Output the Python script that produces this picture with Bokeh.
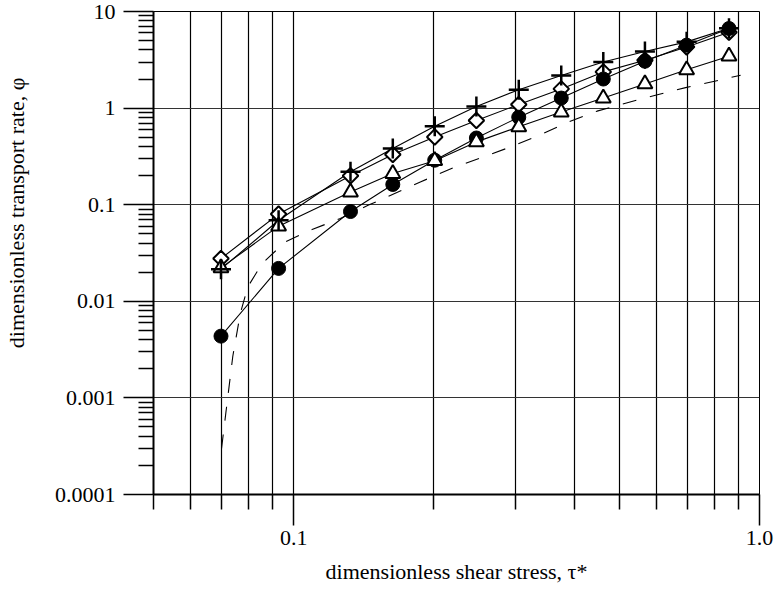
import numpy as np
from bokeh.plotting import figure
from bokeh.layouts import row
from bokeh.models import FixedTicker, CustomJSTickFormatter
from bokeh.core.properties import value
from bokeh.embed import file_html
from bokeh.resources import INLINE

# ---- data ----
tau = [0.0698, 0.0928, 0.1324, 0.1632, 0.2008, 0.2467, 0.3042, 0.3753, 0.462, 0.5676, 0.6975, 0.86]
phi_plus = [0.0215, 0.069, 0.219, 0.382, 0.650, 1.04, 1.55, 2.17, 3.0, 3.85, 4.85, 6.7]
phi_diamond = [0.0277, 0.080, 0.199, 0.331, 0.503, 0.745, 1.09, 1.58, 2.37, 3.13, 4.30, 6.1]
phi_circle = [0.00436, 0.0219, 0.085, 0.162, 0.289, 0.49, 0.805, 1.27, 2.0, 3.06, 4.48, 6.67]
phi_triangle = [0.0222, 0.060, 0.135, 0.210, 0.285, 0.447, 0.64, 0.91, 1.27, 1.78, 2.49, 3.44]

tau_dash = [0.0700, 0.0715, 0.0740, 0.0768, 0.0797, 0.0855, 0.0959, 0.1095, 0.1259, 0.1448,
            0.187, 0.222, 0.2555, 0.292, 0.337, 0.389, 0.448, 0.518, 0.598, 0.694, 0.801, 0.911]
phi_dash = [0.0003, 0.0007, 0.0027, 0.0075, 0.0141, 0.0246, 0.0412, 0.0553, 0.072, 0.099,
            0.172, 0.245, 0.313, 0.396, 0.523, 0.719, 0.93, 1.13, 1.36, 1.63, 1.90, 2.19]

x_major = [0.1, 1.0]
x_minor = [0.05, 0.06, 0.07, 0.08, 0.09, 0.2, 0.3, 0.4, 0.5, 0.6, 0.7, 0.8, 0.9]
y_major = [0.0001, 0.001, 0.01, 0.1, 1, 10]
y_minor = [m * 10.0 ** e for e in range(-4, 1) for m in range(2, 10)]

x_label = "dimensionless shear stress, \u03c4*"
y_label = "dimensionless transport rate, \u03c6"

FONT = "Liberation Serif"
FS = "22px"
H = 590
LW = 30  # width of the strip that carries the y-axis title

# ---- strip on the left holding the y-axis title ----
pl = figure(width=LW, height=H, x_range=(0, LW), y_range=(0, H),
            x_axis_location=None, y_axis_location=None,
            output_backend="svg", toolbar_location=None, min_border=0)
pl.outline_line_color = None
pl.grid.visible = False
pl.text(x=[16], y=[H - 246], text=[y_label], angle=np.pi / 2,
        text_align="center", text_baseline="middle",
        text_font=value(FONT), text_font_size=value(FS), text_color="black")

# ---- main chart ----
p = figure(width=776 - LW, height=H, x_axis_type="log", y_axis_type="log",
           x_range=(0.05, 1.0), y_range=(0.0001, 10),
           output_backend="svg", toolbar_location=None,
           min_border_left=153 - LW, min_border_right=17,
           min_border_top=11, min_border_bottom=H - 494)
p.background_fill_color = "white"
p.border_fill_color = "white"
p.outline_line_color = "black"
p.outline_line_width = 1

xt = FixedTicker(ticks=x_major, minor_ticks=x_minor)
yt = FixedTicker(ticks=y_major, minor_ticks=y_minor)
p.xaxis.ticker = xt
p.yaxis.ticker = yt
p.xgrid.ticker = xt
p.ygrid.ticker = yt

p.xaxis.formatter = CustomJSTickFormatter(code="return tick.toFixed(1);")
p.yaxis.formatter = CustomJSTickFormatter(code="return tick.toString();")

for ax in (p.xaxis, p.yaxis):
    ax.axis_line_color = "black"
    ax.axis_line_width = 2
    ax.major_tick_line_color = "black"
    ax.minor_tick_line_color = "black"
    ax.major_tick_line_width = 1.5
    ax.minor_tick_line_width = 1.5
    ax.major_tick_in = 0
    ax.minor_tick_in = 0
    ax.major_label_text_font = FONT
    ax.major_label_text_font_size = FS
    ax.major_label_text_color = "black"
    ax.axis_label_text_font = FONT
    ax.axis_label_text_font_size = FS
    ax.axis_label_text_font_style = "normal"
    ax.axis_label_text_color = "black"

p.xaxis.major_tick_out = 31
p.xaxis.minor_tick_out = 15
p.xaxis.major_label_standoff = 5
p.xaxis.axis_label = x_label
p.xaxis.axis_label_standoff = 11

p.yaxis.major_tick_out = 30
p.yaxis.minor_tick_out = 15
p.yaxis.major_label_standoff = 8

p.xgrid.grid_line_color = "black"
p.xgrid.grid_line_width = 1.2
p.xgrid.minor_grid_line_color = "black"
p.xgrid.minor_grid_line_width = 1.2
p.ygrid.grid_line_color = "#333333"
p.ygrid.grid_line_width = 1.2
p.ygrid.minor_grid_line_color = None

# curves
p.line(tau_dash, phi_dash, line_color="black", line_width=1.1, line_dash="14 14")
for ys in (phi_plus, phi_diamond, phi_circle, phi_triangle):
    p.line(tau, ys, line_color="black", line_width=1.1)

# markers
p.scatter(tau, phi_diamond, marker="square", angle=np.pi / 4, size=11,
          line_color="black", line_width=2, fill_color="white")
p.scatter(tau, phi_circle, marker="circle", size=14,
          line_color="black", line_width=1, fill_color="black")
p.scatter(tau, phi_triangle, marker="triangle", size=15,
          line_color="black", line_width=2, fill_color="white")
p.scatter(tau, phi_plus, marker="cross", size=20,
          line_color="black", line_width=2.5)

layout = row(pl, p, spacing=0)

open("out.html", "w").write(file_html(layout, INLINE))
